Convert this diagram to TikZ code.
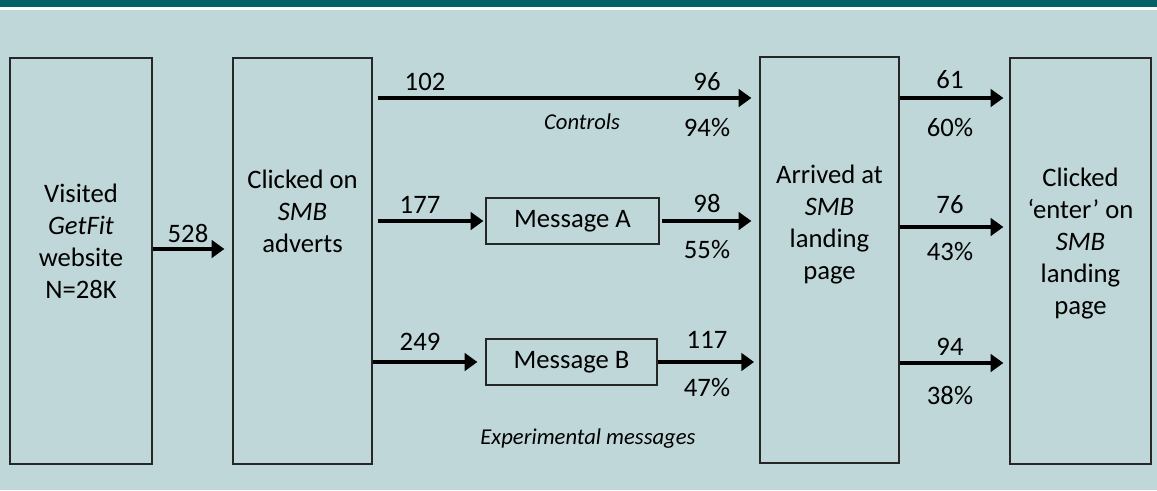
\documentclass[tikz,border=0pt]{standalone}
\usepackage{fontspec}
\setmainfont{Carlito}
\usetikzlibrary{arrows.meta,positioning}
\definecolor{bgteal}{RGB}{191,215,216}
\definecolor{bandteal}{RGB}{0,98,100}
\tikzset{
  box/.style     = {draw=black!85, line width=0.9pt, minimum height=304.5pt, inner sep=0pt},
  msgbox/.style  = {draw=black!85, line width=0.9pt, minimum height=34.5pt, inner sep=0pt,
                    font=\fontsize{20}{24}\selectfont},
  boxtext/.style = {align=center, font=\fontsize{20}{24}\selectfont},
  num/.style     = {inner sep=0pt, font=\fontsize{20}{24}\selectfont},
  note/.style    = {inner sep=0pt, font=\fontsize{17}{20}\selectfont\itshape},
  flow/.style    = {-{Triangle[length=9.5pt,width=13pt]}, line width=3pt},
}

\begin{document}
\begin{tikzpicture}[x=0.75pt,y=-0.75pt]
  % backdrop and top band
  \fill[bgteal] (0,0) rectangle (1157,490);
  \fill[white] (0,7) rectangle (1157,10);
  \fill[bandteal] (0,0) rectangle (1157,7);
  \useasboundingbox (0,0) rectangle (1157,490);

  % stages
  \node[box, minimum width=106.5pt]  (visit) at (81,261) {};
  \node[box, minimum width=104.25pt] (ads)   at (302.5,261) {};
  \node[box, minimum width=104.25pt] (land)  at (829.5,260) {};
  \node[box, minimum width=105.75pt] (enter) at (1080.5,261) {};
  \node[boxtext] (visitT) at (81,241)   {Visited\\\textit{GetFit}\\website\\N=28K};
  \node[boxtext] (adsT)   at (302.5,211) {Clicked on\\\textit{SMB}\\adverts};
  \node[boxtext] (landT)  at (829.5,225) {Arrived at\\\textit{SMB}\\landing\\page};
  \node[boxtext] (enterT) at (1080.5,244) {Clicked\\`enter' on\\\textit{SMB}\\landing\\page};

  \node[msgbox, minimum width=129.75pt] (msgA) at (572.5,221) {Message A};
  \node[msgbox, minimum width=128.25pt] (msgB) at (571.5,362) {Message B};

  % flows
  \draw[flow, shorten >=6pt] (visit.east |- 0,249) -- (ads.west |- 0,249);
  \draw[flow, shorten <=3.75pt, shorten >=6pt] (ads.east |- 0,98) -- (land.west |- 0,98);
  \draw[flow, shorten <=3.75pt, shorten >=1.5pt] (ads.east |- msgA.west) -- (msgA.west);
  \draw[flow, shorten <=2pt, shorten >=6pt] (msgA.east) -- (land.west |- msgA.east);
  \draw[flow, shorten >=6pt] (ads.east |- msgB.west) -- (msgB.west);
  \draw[flow, shorten >=4pt] (msgB.east) -- (land.west |- msgB.east);
  \foreach \y in {98,227,363}
    \draw[flow, shorten >=4.5pt] (land.east |- 0,\y) -- (enter.west |- 0,\y);

  % counts and rates
  \foreach \nm/\x/\y/\t in {n528/188/233/528, n102/425/82/102, n96/707/82/96, p94/707/128/94\%,
      n177/420/205/177, n98/707/203/98, p55/707/250/55\%,
      n249/420/342/249, n117/707/340/117, p47/707/388/47\%,
      n61/950/80/61, p60/950/128/60\%, n76/950/205/76, p43/950/252/43\%,
      n94/950/347/94, p38/950/395/38\%}
    \node[num] (\nm) at (\x,\y) {\t};
  \node[note] (ctrl) at (582,122) {Controls};
  \node[note] (expm) at (588,439) {Experimental messages};
\end{tikzpicture}
\end{document}
